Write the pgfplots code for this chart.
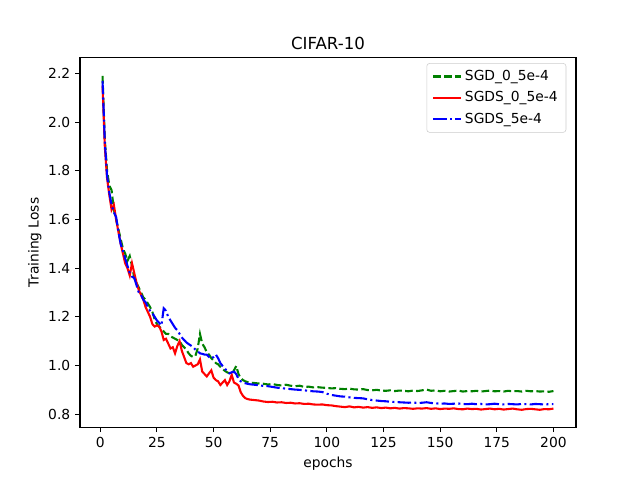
\documentclass[border=0pt]{standalone}
\usepackage{pgfplots}
\pgfplotsset{compat=1.18}
\usepackage{fontspec}
\setmainfont{DejaVu Sans}
\definecolor{mplgreen}{RGB}{0,128,0}
\definecolor{mplred}{RGB}{255,0,0}
\definecolor{mplblue}{RGB}{0,0,255}
\begin{document}
\begin{tikzpicture}
\begin{axis}[
  scale only axis,
  width=4.96in, height=3.696in,
  xmin=-8.95, xmax=209.95, ymin=0.7465, ymax=2.2655,
  xtick={0,25,50,75,100,125,150,175,200},
  ytick={0.8,1.0,1.2,1.4,1.6,1.8,2.0,2.2},
  yticklabel style={/pgf/number format/.cd,fixed,fixed zerofill,precision=1},
  /pgf/number format/assume math mode=true,
  tick align=outside, tick pos=left,
  major tick length=3.5bp,
  every tick/.style={line width=0.8bp, black},
  axis line style={line width=0.8bp},
  tick label style={font=\fontsize{10}{12}\selectfont},
  xlabel={epochs}, ylabel={Training Loss},
  ylabel shift=-2bp,
  label style={font=\fontsize{10}{12}\selectfont},
  title={CIFAR-10},
  title style={font=\fontsize{12}{14}\selectfont, yshift=-3.5bp},
  clip=false,
  legend cell align=left,
  legend style={at={(rel axis cs:1,1)}, anchor=north east, xshift=-7bp, yshift=-4bp,
    draw=black!20, rounded corners=2bp, fill=white, fill opacity=0.8, text opacity=1,
    font=\fontsize{10}{12}\selectfont, inner xsep=4bp, inner ysep=3bp,
    row sep=2.5bp},
  legend image code/.code={\draw[#1] (0bp,0bp) -- (20bp,0bp);},
]
\path (rel axis cs:-0.16129,-0.1434) rectangle (rel axis cs:1.12903,1.15584);
\addplot[mplgreen, line width=1.5bp, dash pattern=on 5.55bp off 2.4bp] coordinates {
(1,2.19)(2,1.93)(3,1.80)(4,1.74)(5,1.72)(6,1.64)(7,1.60)(8,1.56)(9,1.52)(10,1.48)
(11,1.46)(12,1.43)(13,1.45)(14,1.41)(15,1.36)(16,1.34)(17,1.32)(18,1.30)(19,1.28)(20,1.27)
(21,1.255)(22,1.24)(23,1.22)(24,1.19)(25,1.17)(26,1.16)(27,1.15)(28,1.14)(29,1.13)(30,1.13)
(31,1.12)(32,1.115)(33,1.11)(34,1.105)(35,1.10)(36,1.085)(37,1.075)(38,1.065)(39,1.05)(40,1.04)
(41,1.035)(42,1.04)(43,1.07)(44,1.13)(45,1.09)(46,1.075)(47,1.055)(48,1.045)(49,1.03)(50,1.02)
(51,1.01)(52,1.005)(53,0.995)(54,0.985)(55,0.978)(56,0.972)(57,0.968)(58,0.965)(59,0.98)(60,0.998)
(61,0.965)(62,0.948)(63,0.94)(64,0.935)(65,0.932)(66,0.930)
(68,0.928)(70,0.926)(72,0.925)(74,0.922)(76,0.924)(78,0.920)(80,0.918)(82,0.921)(84,0.917)(86,0.915)
(88,0.917)(90,0.912)(92,0.913)(94,0.910)(96,0.911)(98,0.909)(100,0.908)(102,0.906)(104,0.907)(106,0.904)
(108,0.903)(110,0.905)(112,0.902)(114,0.901)(116,0.903)(118,0.899)(120,0.898)(122,0.900)(124,0.897)(126,0.896)
(128,0.898)(130,0.895)(132,0.897)(134,0.896)(136,0.894)(138,0.897)(140,0.895)(142,0.898)(144,0.901)(146,0.896)
(148,0.898)(150,0.894)(152,0.896)(154,0.893)(156,0.895)(158,0.897)(160,0.893)(162,0.895)(164,0.894)(166,0.896)
(168,0.893)(170,0.895)(172,0.897)(174,0.894)(176,0.895)(178,0.893)(180,0.896)(182,0.894)(184,0.895)(186,0.893)
(188,0.896)(190,0.894)(192,0.895)(194,0.893)(196,0.894)(198,0.892)(200,0.895)
};
\addlegendentry{SGD\_0\_5e-4}
\addplot[mplred, line width=1.5bp] coordinates {
(1,2.15)(2,1.90)(3,1.77)(4,1.70)(5,1.64)(6,1.66)(7,1.60)(8,1.55)(9,1.50)(10,1.46)
(11,1.42)(12,1.40)(13,1.37)(14,1.42)(15,1.38)(16,1.34)(17,1.31)(18,1.29)(19,1.27)(20,1.24)
(21,1.22)(22,1.20)(23,1.17)(24,1.16)(25,1.165)(26,1.16)(27,1.14)(28,1.105)(29,1.11)(30,1.09)
(31,1.07)(32,1.075)(33,1.05)(34,1.08)(35,1.10)(36,1.06)(37,1.035)(38,1.01)(39,1.005)(40,1.01)
(41,0.995)(42,1.00)(43,1.005)(44,1.025)(45,0.975)(46,0.965)(47,0.955)(48,0.968)(49,0.98)(50,0.95)
(51,0.94)(52,0.935)(53,0.92)(54,0.93)(55,0.94)(56,0.92)(57,0.935)(58,0.962)(59,0.93)(60,0.925)
(61,0.918)(62,0.89)(63,0.875)(64,0.866)(65,0.862)(66,0.86)
(68,0.858)(70,0.856)(72,0.852)(74,0.850)(76,0.851)(78,0.848)(80,0.849)(82,0.846)(84,0.847)(86,0.844)
(88,0.845)(90,0.842)(92,0.843)(94,0.840)(96,0.839)(98,0.840)(100,0.837)(102,0.836)(104,0.833)(106,0.831)
(108,0.829)(110,0.832)(112,0.828)(114,0.830)(116,0.827)(118,0.829)(120,0.826)(122,0.828)(124,0.825)(126,0.827)
(128,0.824)(130,0.826)(132,0.823)(134,0.825)(136,0.824)(138,0.822)(140,0.824)(142,0.823)(144,0.825)(146,0.822)
(148,0.824)(150,0.821)(152,0.823)(154,0.822)(156,0.824)(158,0.821)(160,0.820)(162,0.823)(164,0.821)(166,0.822)
(168,0.819)(170,0.821)(172,0.823)(174,0.820)(176,0.822)(178,0.819)(180,0.821)(182,0.823)(184,0.820)(186,0.818)
(188,0.821)(190,0.822)(192,0.820)(194,0.818)(196,0.821)(198,0.820)(200,0.823)
};
\addlegendentry{SGDS\_0\_5e-4}
\addplot[mplblue, line width=1.5bp, dash pattern=on 9.6bp off 2.4bp on 1.5bp off 2.4bp] coordinates {
(1,2.17)(2,1.92)(3,1.78)(4,1.71)(5,1.66)(6,1.63)(7,1.61)(8,1.55)(9,1.50)(10,1.47)
(11,1.44)(12,1.41)(13,1.38)(14,1.365)(15,1.36)(16,1.33)(17,1.30)(18,1.29)(19,1.27)(20,1.26)
(21,1.24)(22,1.225)(23,1.215)(24,1.20)(25,1.185)(26,1.175)(27,1.165)(28,1.235)(29,1.225)(30,1.20)
(31,1.185)(32,1.17)(33,1.155)(34,1.145)(35,1.13)(36,1.115)(37,1.105)(38,1.095)(39,1.088)(40,1.082)
(41,1.075)(42,1.065)(43,1.058)(44,1.05)(45,1.048)(46,1.045)(47,1.045)(48,1.035)(49,1.028)(50,1.035)
(51,1.045)(52,1.03)(53,1.01)(54,0.998)(55,0.988)(56,0.975)(57,0.968)(58,0.972)(59,0.975)(60,0.965)
(61,0.945)(62,0.935)(63,0.93)(64,0.927)(65,0.925)(66,0.923)
(68,0.921)(70,0.919)(72,0.916)(74,0.915)(76,0.912)(78,0.909)(80,0.907)(82,0.905)(84,0.903)(86,0.901)
(88,0.900)(90,0.898)(92,0.896)(94,0.894)(96,0.893)(98,0.891)(100,0.884)(102,0.879)(104,0.876)(106,0.873)
(108,0.872)(110,0.869)(112,0.867)(114,0.866)(116,0.865)(118,0.861)(120,0.858)(122,0.856)(124,0.854)(126,0.853)
(128,0.851)(130,0.850)(132,0.849)(134,0.848)(136,0.847)(138,0.848)(140,0.846)(142,0.847)(144,0.849)(146,0.846)
(148,0.845)(150,0.843)(152,0.844)(154,0.842)(156,0.843)(158,0.844)(160,0.842)(162,0.841)(164,0.843)(166,0.841)
(168,0.842)(170,0.840)(172,0.841)(174,0.843)(176,0.841)(178,0.840)(180,0.842)(182,0.841)(184,0.840)(186,0.842)
(188,0.841)(190,0.840)(192,0.842)(194,0.841)(196,0.840)(198,0.841)(200,0.841)
};
\addlegendentry{SGDS\_5e-4}
\end{axis}
\end{tikzpicture}
\end{document}
